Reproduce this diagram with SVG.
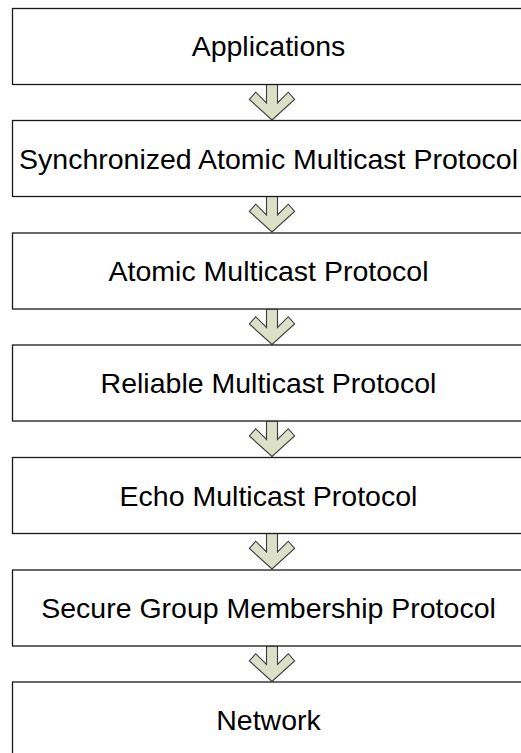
<svg xmlns="http://www.w3.org/2000/svg" width="521" height="753" viewBox="0 0 521 753">
  <style>
    .layer rect { fill: #ffffff; stroke: #1a1a1a; stroke-width: 1.3; }
    .layer text { font-family: "Liberation Sans", Arial, sans-serif; font-size: 28.5px; fill: #000000; text-anchor: middle; }
    .flow { fill: #dde0c9; stroke: #3a3a3a; stroke-width: 1.1; stroke-linejoin: miter; }
  </style>
  <defs>
    <!-- Downward block arrow; origin = centre of the upper box's bottom edge -->
    <path id="down-arrow" class="flow" d="M -5.5,0 V 18.5 L -16.3,7.7 L -22.6,15 L 0,35.5 L 22.6,15 L 16.3,7.7 L 5.5,18.5 V 0 Z"/>
  </defs>

  <rect width="521" height="753" fill="#ffffff"/>

  <g id="connectors">
    <use href="#down-arrow" transform="translate(272,84.5)"/>
    <use href="#down-arrow" transform="translate(272,196.5)"/>
    <use href="#down-arrow" transform="translate(272,309)"/>
    <use href="#down-arrow" transform="translate(272,421)"/>
    <use href="#down-arrow" transform="translate(272,533.5)"/>
    <use href="#down-arrow" transform="translate(272,646)"/>
  </g>

  <g id="applications" class="layer">
    <rect x="12.5" y="8.5" width="515" height="76"/>
    <text x="268.5" y="56">Applications</text>
  </g>
  <g id="synchronized-atomic-multicast" class="layer">
    <rect x="12.5" y="120.5" width="515" height="76"/>
    <text x="268.5" y="168.5">Synchronized Atomic Multicast Protocol</text>
  </g>
  <g id="atomic-multicast" class="layer">
    <rect x="12.5" y="233" width="515" height="76"/>
    <text x="268.5" y="281">Atomic Multicast Protocol</text>
  </g>
  <g id="reliable-multicast" class="layer">
    <rect x="12.5" y="345" width="515" height="76"/>
    <text x="268.5" y="393">Reliable Multicast Protocol</text>
  </g>
  <g id="echo-multicast" class="layer">
    <rect x="12.5" y="457.5" width="515" height="76"/>
    <text x="268.5" y="505.5">Echo Multicast Protocol</text>
  </g>
  <g id="secure-group-membership" class="layer">
    <rect x="12.5" y="570" width="515" height="76"/>
    <text x="268.5" y="617.5">Secure Group Membership Protocol</text>
  </g>
  <g id="network" class="layer">
    <rect x="12.5" y="682" width="515" height="76"/>
    <text x="268.5" y="729.5">Network</text>
  </g>
</svg>
